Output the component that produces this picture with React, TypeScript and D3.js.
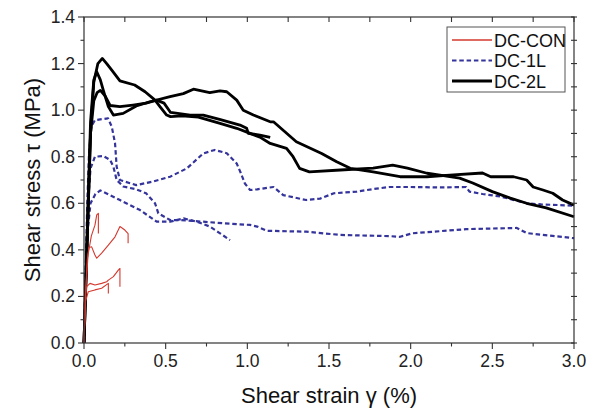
import * as d3 from 'd3';
import React from 'react';

type Pt = [number, number];

// DC-CON specimens (red, thin)
const con1: Pt[] = [[0, 0], [0.01, 0.22], [0.025, 0.38], [0.045, 0.46], [0.067, 0.506], [0.078, 0.55], [0.088, 0.557], [0.088, 0.47]];
const con2: Pt[] = [[0, 0], [0.008, 0.2], [0.02, 0.36], [0.03, 0.41], [0.047, 0.413], [0.067, 0.378], [0.078, 0.364], [0.108, 0.386], [0.149, 0.42], [0.19, 0.456], [0.22, 0.5], [0.25, 0.485], [0.27, 0.47], [0.27, 0.428]];
const con3: Pt[] = [[0, 0], [0.005, 0.12], [0.01, 0.2], [0.016, 0.242], [0.037, 0.256], [0.067, 0.249], [0.108, 0.256], [0.139, 0.263], [0.149, 0.27], [0.18, 0.285], [0.21, 0.313], [0.22, 0.32], [0.22, 0.242]];
const con4: Pt[] = [[0, 0], [0.01, 0.18], [0.026, 0.22], [0.067, 0.228], [0.108, 0.235], [0.149, 0.256], [0.149, 0.213]];

// DC-1L specimens (blue, dashed)
const oneL1: Pt[] = [[0, 0], [0.01, 0.3], [0.02, 0.6], [0.03, 0.8], [0.045, 0.93], [0.067, 0.957], [0.147, 0.965], [0.17, 0.929], [0.19, 0.858], [0.2, 0.757], [0.22, 0.7], [0.32, 0.678], [0.42, 0.693], [0.527, 0.714], [0.63, 0.75], [0.73, 0.814], [0.8, 0.829], [0.874, 0.815], [0.935, 0.771], [0.96, 0.73], [0.985, 0.685], [1.017, 0.657], [1.06, 0.66], [1.16, 0.67], [1.22, 0.635], [1.36, 0.614], [1.445, 0.62], [1.53, 0.643], [1.67, 0.65], [1.77, 0.661], [1.87, 0.67], [2.0, 0.67], [2.18, 0.668], [2.34, 0.67], [2.36, 0.65], [2.44, 0.64], [2.55, 0.629], [2.71, 0.6], [2.8, 0.595], [3.0, 0.59]];
const oneL2: Pt[] = [[0, 0], [0.01, 0.3], [0.025, 0.6], [0.04, 0.75], [0.067, 0.8], [0.117, 0.803], [0.16, 0.786], [0.18, 0.757], [0.2, 0.7], [0.24, 0.672], [0.32, 0.66], [0.38, 0.643], [0.435, 0.6], [0.455, 0.557], [0.527, 0.528], [0.588, 0.528], [0.73, 0.521], [0.853, 0.514], [1.017, 0.507], [1.06, 0.5], [1.12, 0.482], [1.36, 0.478], [1.57, 0.464], [1.87, 0.459], [1.935, 0.456], [2.01, 0.471], [2.14, 0.478], [2.34, 0.489], [2.65, 0.494], [2.71, 0.472], [3.0, 0.45]];
const oneL3: Pt[] = [[0, 0], [0.01, 0.25], [0.025, 0.5], [0.04, 0.6], [0.07, 0.64], [0.1, 0.655], [0.117, 0.65], [0.22, 0.614], [0.343, 0.571], [0.445, 0.521], [0.527, 0.521], [0.61, 0.535], [0.69, 0.521], [0.77, 0.5], [0.833, 0.471], [0.894, 0.442]];

// DC-2L specimens (black, thick)
const twoL1: Pt[] = [[0, 0], [0.02, 0.45], [0.04, 0.9], [0.06, 1.12], [0.085, 1.2], [0.112, 1.222], [0.139, 1.2], [0.17, 1.172], [0.22, 1.126], [0.31, 1.108], [0.374, 1.079], [0.435, 1.043], [0.465, 1.015], [0.506, 0.979], [0.53, 0.972], [0.6, 0.975], [0.7, 0.97], [0.833, 0.943], [0.935, 0.922], [1.017, 0.9], [1.077, 0.884], [1.14, 0.857], [1.24, 0.836], [1.28, 0.8], [1.32, 0.75], [1.38, 0.735], [1.57, 0.743], [1.77, 0.751], [1.89, 0.764], [1.98, 0.751], [2.1, 0.729], [2.18, 0.721], [2.3, 0.708], [2.38, 0.687], [2.5, 0.65], [2.61, 0.622], [2.71, 0.6], [2.83, 0.58], [3.0, 0.542]];
const twoL2: Pt[] = [[0, 0], [0.02, 0.48], [0.04, 0.95], [0.06, 1.13], [0.078, 1.165], [0.1, 1.13], [0.118, 1.086], [0.149, 1.015], [0.18, 0.979], [0.24, 0.986], [0.32, 1.018], [0.404, 1.036], [0.527, 1.058], [0.608, 1.071], [0.67, 1.09], [0.77, 1.075], [0.833, 1.083], [0.874, 1.079], [0.935, 1.043], [0.975, 1.0], [1.037, 0.979], [1.14, 0.95], [1.16, 0.95], [1.3, 0.864], [1.455, 0.814], [1.547, 0.778], [1.63, 0.75], [1.77, 0.735], [1.935, 0.714], [2.1, 0.714], [2.24, 0.721], [2.44, 0.73], [2.49, 0.714], [2.63, 0.714], [2.71, 0.7], [2.75, 0.67], [2.81, 0.657], [2.87, 0.643], [2.93, 0.614], [3.0, 0.592]];
const twoL3: Pt[] = [[0, 0], [0.02, 0.46], [0.04, 0.9], [0.06, 1.04], [0.08, 1.075], [0.1, 1.085], [0.13, 1.06], [0.16, 1.02], [0.22, 1.015], [0.3, 1.022], [0.38, 1.03], [0.445, 1.043], [0.49, 1.03], [0.53, 0.99], [0.65, 0.979], [0.73, 0.979], [0.83, 0.96], [0.955, 0.936], [0.996, 0.922], [1.006, 0.9], [1.077, 0.893], [1.14, 0.883]];

const xTicks = [0, 0.5, 1, 1.5, 2, 2.5, 3];
const yTicks = [0, 0.2, 0.4, 0.6, 0.8, 1.0, 1.2, 1.4];
const legendLabels = ['DC-CON', 'DC-1L', 'DC-2L'];

const W = 590;
const H = 415;
const margin = { top: 17, right: 16, bottom: 72, left: 84 };
const font = 'Arial, "Liberation Sans", Helvetica, sans-serif';

const styles = [
  { color: '#d4382e', width: 1.1, dash: undefined as string | undefined },
  { color: '#34349c', width: 2.2, dash: '4.5,2.8' },
  { color: '#000000', width: 2.8, dash: undefined as string | undefined },
];

export default function App() {
  const x = d3.scaleLinear().domain([0, 3]).range([margin.left, W - margin.right]);
  const y = d3.scaleLinear().domain([0, 1.4]).range([H - margin.bottom, margin.top]);
  const line = d3.line<Pt>().x((d) => x(d[0])).y((d) => y(d[1]));

  const groups: Pt[][][] = [
    [con1, con2, con3, con4],
    [oneL1, oneL2, oneL3],
    [twoL1, twoL2, twoL3],
  ];

  const x0 = x(0), x1 = x(3), yb = y(0), yt = y(1.4);
  const xMinor = d3.range(0, 3.001, 0.25);
  const yMinor = d3.range(0, 1.401, 0.1);
  const axisColor = '#333';

  return (
    <div style={{ position: 'absolute', left: 0, top: 0 }}>
      <svg width={W} height={H} style={{ display: 'block', background: '#fff' }}>
        {/* curves: blue first, then black, red on top */}
        {[1, 2, 0].map((gi) =>
          groups[gi].map((c, i) => (
            <path
              key={`${gi}-${i}`}
              d={line(c) || ''}
              fill="none"
              stroke={styles[gi].color}
              strokeWidth={styles[gi].width}
              strokeDasharray={styles[gi].dash}
              strokeLinejoin="round"
            />
          ))
        )}

        {/* frame */}
        <rect x={x0} y={yt} width={x1 - x0} height={yb - yt} fill="none" stroke={axisColor} strokeWidth={1.2} />

        {/* bottom + top ticks */}
        {xMinor.map((v, i) => {
          const major = i % 2 === 0;
          return (
            <g key={`xt${i}`}>
              <line x1={x(v)} x2={x(v)} y1={yb} y2={yb + (major ? 6 : 3.5)} stroke={axisColor} strokeWidth={1.1} />
              <line x1={x(v)} x2={x(v)} y1={yt} y2={yt + 5} stroke={axisColor} strokeWidth={1.1} />
            </g>
          );
        })}
        {/* left + right ticks */}
        {yMinor.map((v, i) => {
          const major = i % 2 === 0;
          return (
            <g key={`yt${i}`}>
              <line x1={x0} x2={x0 - (major ? 6 : 3.5)} y1={y(v)} y2={y(v)} stroke={axisColor} strokeWidth={1.1} />
              <line x1={x1 - 3} x2={x1 + 3} y1={y(v)} y2={y(v)} stroke={axisColor} strokeWidth={1.1} />
            </g>
          );
        })}

        {xTicks.map((v) => (
          <text key={`xl${v}`} x={x(v)} y={yb + 24} textAnchor="middle" fontFamily={font} fontSize={17.5} fill="#222">
            {v.toFixed(1)}
          </text>
        ))}
        {yTicks.map((v) => (
          <text key={`yl${v}`} x={x0 - 9} y={y(v) + 6} textAnchor="end" fontFamily={font} fontSize={17.5} fill="#222">
            {v.toFixed(1)}
          </text>
        ))}

        <text x={(x0 + x1) / 2} y={yb + 60} textAnchor="middle" fontFamily={font} fontSize={22} fill="#111">
          Shear strain γ (%)
        </text>
        <text
          transform={`translate(40, ${(yt + yb) / 2}) rotate(-90)`}
          textAnchor="middle"
          fontFamily={font}
          fontSize={22}
          fill="#111"
        >
          Shear stress τ (MPa)
        </text>

        {/* legend */}
        <rect x={447} y={27} width={118} height={65} fill="#fff" stroke="#555" strokeWidth={1} />
        {legendLabels.map((lab, i) => {
          const ly = 40 + i * 20.5;
          return (
            <g key={lab}>
              <line
                x1={452}
                x2={492}
                y1={ly}
                y2={ly}
                stroke={styles[i].color}
                strokeWidth={i === 0 ? 1.3 : styles[i].width}
                strokeDasharray={styles[i].dash}
              />
              <text x={494} y={ly + 6.5} fontFamily={font} fontSize={18} fill="#111">
                {lab}
              </text>
            </g>
          );
        })}
      </svg>
    </div>
  );
}
